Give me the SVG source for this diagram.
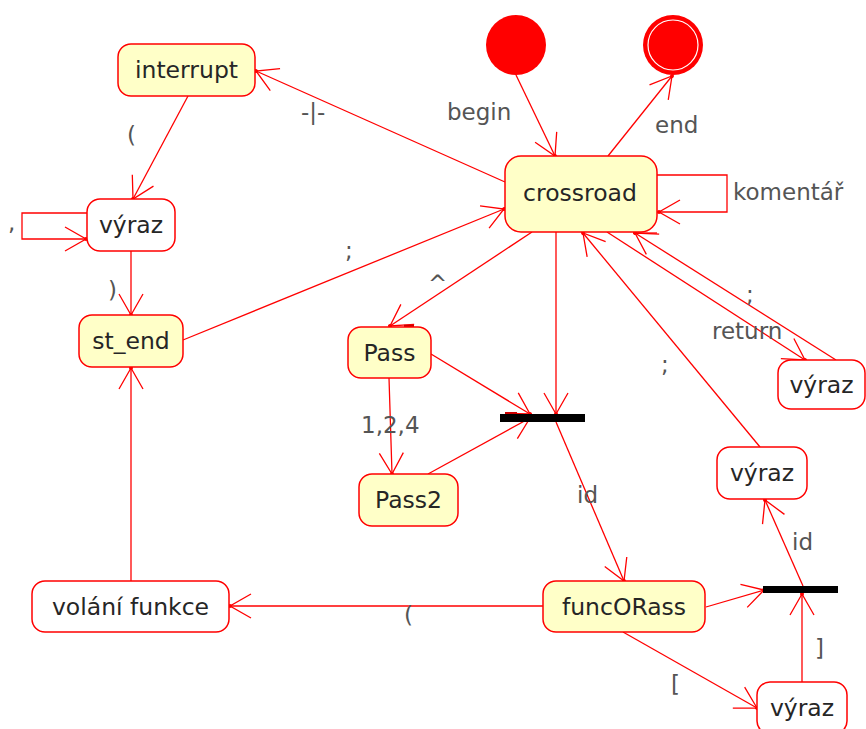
<svg xmlns="http://www.w3.org/2000/svg" width="866" height="729" viewBox="0 0 866 729">
  <defs>
    <style>
      .state { fill: #FFFFC8; stroke: #FF0000; stroke-width: 1.5; }
      .plain { fill: #FFFFFF; stroke: #FF0000; stroke-width: 1.5; }
      .name { font-family: "DejaVu Sans", Verdana, sans-serif; font-size: 23.5px; fill: #262626; text-anchor: middle; }
      .lbl { font-family: "DejaVu Sans", Verdana, sans-serif; font-size: 23px; fill: #555555; }
      .edge { fill: none; stroke: #FF0000; stroke-width: 1.3; marker-end: url(#vee); }
      .bare { fill: none; stroke: #FF0000; stroke-width: 1.3; }
      .bar { fill: #000000; }
    </style>
    <marker id="vee" markerUnits="userSpaceOnUse" markerWidth="30" markerHeight="30" viewBox="-24 -15 28 30" refX="0" refY="0" orient="auto" overflow="visible">
      <path d="M-21,-12 L0,0 L-21,12" fill="none" stroke="#FF0000" stroke-width="1.3"/>
      <circle cx="0" cy="0" r="2" fill="#FF0000"/>
    </marker>
  </defs>

  <rect width="866" height="729" fill="#FFFFFF"/>

  <!-- transitions -->
  <g id="connectors">
    <line class="edge" x1="516" y1="75" x2="555" y2="156"/>
    <line class="edge" x1="608" y1="156" x2="672" y2="76"/>
    <path class="edge" d="M657,175 H727 V212 H659"/>
    <line class="edge" x1="505" y1="182" x2="256" y2="71"/>
    <line class="edge" x1="188" y1="96" x2="133" y2="199"/>
    <path class="edge" d="M87,213 H22 V239 H86"/>
    <line class="edge" x1="131" y1="251" x2="131" y2="315"/>
    <line class="edge" x1="183" y1="340" x2="504" y2="209"/>
    <line class="edge" x1="532" y1="232" x2="390" y2="326"/>
    <line class="edge" x1="556" y1="232" x2="556" y2="414"/>
    <line class="edge" x1="431" y1="354" x2="530" y2="414"/>
    <line class="edge" x1="389" y1="378" x2="392" y2="474"/>
    <line class="edge" x1="428" y1="474" x2="530" y2="418"/>
    <line class="edge" x1="556" y1="422" x2="624" y2="581"/>
    <line class="edge" x1="543" y1="606" x2="230" y2="606"/>
    <line class="edge" x1="131" y1="581" x2="131" y2="368"/>
    <line class="edge" x1="706" y1="607" x2="764" y2="590"/>
    <line class="edge" x1="623" y1="632" x2="757" y2="708"/>
    <line class="edge" x1="802" y1="682" x2="802" y2="594"/>
    <line class="edge" x1="803" y1="586" x2="765" y2="500"/>
    <line class="edge" x1="760" y1="447" x2="583" y2="233"/>
    <line class="edge" x1="607" y1="232" x2="805" y2="360"/>
    <line class="edge" x1="836" y1="360" x2="635" y2="233"/>
    <line class="bare" x1="633" y1="233" x2="657" y2="233"/>
    <line x1="404" y1="326" x2="414" y2="326" stroke="#CC0000" stroke-width="2.5"/>
    <line x1="505" y1="413" x2="517" y2="413" stroke="#CC0000" stroke-width="2"/>

    <text class="lbl" x="447" y="120">begin</text>
    <text class="lbl" x="655" y="133">end</text>
    <text class="lbl" x="733" y="200">komentář</text>
    <text class="lbl" x="301" y="120">-|-</text>
    <text class="lbl" x="127" y="143">(</text>
    <text class="lbl" x="8" y="230">,</text>
    <text class="lbl" x="108" y="298">)</text>
    <text class="lbl" x="345" y="258">;</text>
    <text class="lbl" x="428" y="292">^</text>
    <text class="lbl" x="361" y="433">1,2,4</text>
    <text class="lbl" x="577" y="503">id</text>
    <text class="lbl" x="712" y="339">return</text>
    <text class="lbl" x="746" y="302">;</text>
    <text class="lbl" x="661" y="372">;</text>
    <text class="lbl" x="792" y="550">id</text>
    <text class="lbl" x="404" y="623">(</text>
    <text class="lbl" x="671" y="692">[</text>
    <text class="lbl" x="815" y="656">]</text>
  </g>

  <!-- pseudo-states -->
  <g id="begin">
    <circle cx="516" cy="45" r="30" fill="#FF0000"/>
  </g>
  <g id="end">
    <circle cx="673" cy="45" r="30" fill="#FF0000"/>
    <circle cx="673" cy="45" r="25" fill="none" stroke="#FFFFFF" stroke-width="1.2"/>
  </g>

  <!-- states -->
  <g id="interrupt">
    <rect class="state" x="118" y="44" width="137" height="52" rx="13"/>
    <text class="name" x="186.5" y="78">interrupt</text>
  </g>
  <g id="vyraz-arg">
    <rect class="plain" x="87" y="199" width="88" height="52" rx="13"/>
    <text class="name" x="131" y="233">výraz</text>
  </g>
  <g id="st_end">
    <rect class="state" x="79" y="315" width="104" height="52" rx="13"/>
    <text class="name" x="131" y="349">st_end</text>
  </g>
  <g id="crossroad">
    <rect class="state" x="505" y="156" width="152" height="76" rx="16"/>
    <text class="name" x="580" y="201">crossroad</text>
  </g>
  <g id="pass">
    <rect class="state" x="348" y="327" width="83" height="51" rx="13"/>
    <text class="name" x="389.5" y="361">Pass</text>
  </g>
  <g id="pass2">
    <rect class="state" x="359" y="474" width="99" height="52" rx="13"/>
    <text class="name" x="408.5" y="508">Pass2</text>
  </g>
  <g id="join-pass">
    <rect class="bar" x="500" y="414" width="85" height="8"/>
  </g>
  <g id="vyraz-return">
    <rect class="plain" x="778" y="360" width="87" height="49" rx="13"/>
    <text class="name" x="821.5" y="393">výraz</text>
  </g>
  <g id="vyraz-assign">
    <rect class="plain" x="717" y="447" width="90" height="52" rx="13"/>
    <text class="name" x="762" y="481">výraz</text>
  </g>
  <g id="join-id">
    <rect class="bar" x="763" y="586" width="75" height="7"/>
  </g>
  <g id="funcORass">
    <rect class="state" x="543" y="581" width="162" height="51" rx="13"/>
    <text class="name" x="624" y="615">funcORass</text>
  </g>
  <g id="vyraz-index">
    <rect class="plain" x="757" y="682" width="90" height="52" rx="13"/>
    <text class="name" x="802" y="716">výraz</text>
  </g>
  <g id="volani-funkce">
    <rect class="plain" x="32" y="581" width="197" height="51" rx="13"/>
    <text class="name" x="130.5" y="615">volání funkce</text>
  </g>
</svg>
